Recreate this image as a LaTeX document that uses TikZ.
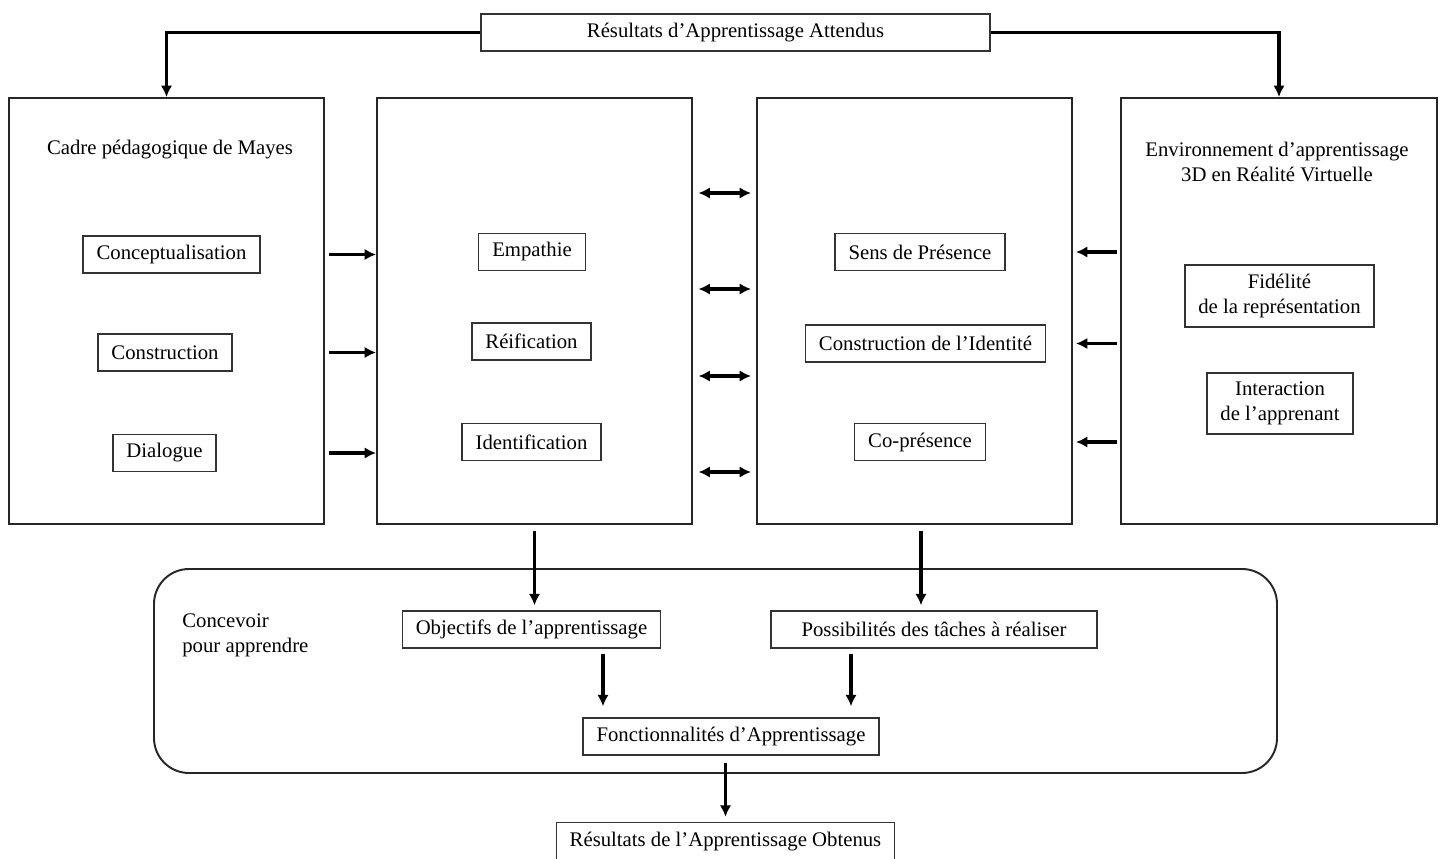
\documentclass[tikz,border=0pt]{standalone}
\usepackage{fontspec}
\setmainfont{Liberation Serif}
\usetikzlibrary{arrows.meta, positioning}

\begin{document}
\begin{tikzpicture}[>={Latex[length=2.3mm,width=2.3mm]},font=\fontsize{11.8}{14.2}\selectfont,
	frame/.style={draw=black!85,line width=1.1pt,minimum width=6.3cm,minimum height=8.52cm},
	item/.style={draw=black!80,line width=0.8pt,minimum height=0.74cm,inner xsep=0.27cm,align=center},
	flow/.style={->,line width=2pt},
	both/.style={<->,line width=2pt,shorten <=0.11cm,shorten >=0.1cm}]
	\useasboundingbox (0,0) rectangle (28.86,17.16);
	\node[item, minimum width=10.18cm] (top) at (14.71,16.51) {Résultats d’Apprentissage Attendus};
	\node[frame] (b1) at (3.33,10.94) {};
	\node[frame] (b2) at (10.69,10.94) {};
	\node[frame] (b3) at (18.29,10.94) {};
	\node[frame, minimum width=6.32cm] (b4) at (25.58,10.94) {};
	\node (t1) at (3.40,14.16) {Cadre pédagogique de Mayes};
	\node[align=center] (t4) at (25.54,13.92) {Environnement d’apprentissage\\3D en Réalité Virtuelle};
	\node[item] (conc) at (3.43,12.07) {Conceptualisation};
	\node[item] (cons) at (3.30,10.11) {Construction};
	\node[item] (dial) at (3.29,8.10) {Dialogue};
	\node[item] (emp) at (10.64,12.12) {Empathie};
	\node[item] (reif) at (10.63,10.33) {Réification};
	\node[item] (ident) at (10.63,8.32) {Identification};
	\node[item] (sens) at (18.40,12.12) {Sens de Présence};
	\node[item] (consid) at (18.51,10.29) {Construction de l’Identité};
	\node[item] (copres) at (18.40,8.32) {Co-présence};
	\node[item, minimum height=1.24cm] (fid) at (25.59,11.24) {Fidélité\\de la représentation};
	\node[item, minimum height=1.22cm] (inter) at (25.60,9.09) {Interaction\\de l’apprenant};
	\node[draw=black!85, line width=1.1pt, rounded corners=0.7cm, minimum width=22.46cm, minimum height=4.08cm] (cpa) at (14.31,3.74) {};
	\node[align=left, anchor=west, inner sep=0pt] (cpat) at (3.64,4.45) {Concevoir\\pour apprendre};
	\node[item] (obj) at (10.63,4.57) {Objectifs de l’apprentissage};
	\node[item, minimum width=6.52cm] (poss) at (18.68,4.57) {Possibilités des tâches à réaliser};
	\node[item] (fonc) at (14.62,2.43) {Fonctionnalités d’Apprentissage};
	\node[item, minimum height=0.78cm] (res) at (14.51,0.32) {Résultats de l’Apprentissage Obtenus};

	\draw[flow] (top.west) -| (b1.north);
	\draw[flow] (top.east) -| (b4.north);
	\foreach \n in {conc,cons,dial}
		\draw[flow, shorten <=0.08cm] (b1.east |- \n) -- (b2.west |- \n);
	\foreach \n in {sens,consid,copres}
		\draw[flow, shorten <=0.06cm, shorten >=0.06cm] (b4.west |- \n) -- (b3.east |- \n);
	\foreach \dy in {2.36,0.44,-1.30,-3.22}
		\draw[both] ([yshift=\dy cm]b2.east) -- ([yshift=\dy cm]b3.west);
	\draw[flow, shorten <=0.12cm, shorten >=0.1cm] (b2.south) -- (b2.south |- obj.north);
	\draw[flow, shorten <=0.12cm, shorten >=0.1cm] ([xshift=0.13cm]b3.south) -- ([xshift=0.13cm]b3.south |- poss.north);
	\draw[flow, shorten <=0.1cm, shorten >=0.22cm] ([xshift=1.43cm]obj.south) -- ([xshift=1.43cm]obj.south |- fonc.north);
	\draw[flow, shorten <=0.1cm, shorten >=0.22cm] ([xshift=-1.66cm]poss.south) -- ([xshift=-1.66cm]poss.south |- fonc.north);
	\draw[flow, shorten <=0.14cm, shorten >=0.1cm] (res.north |- fonc.south) -- (res.north);
\end{tikzpicture}
\end{document}
